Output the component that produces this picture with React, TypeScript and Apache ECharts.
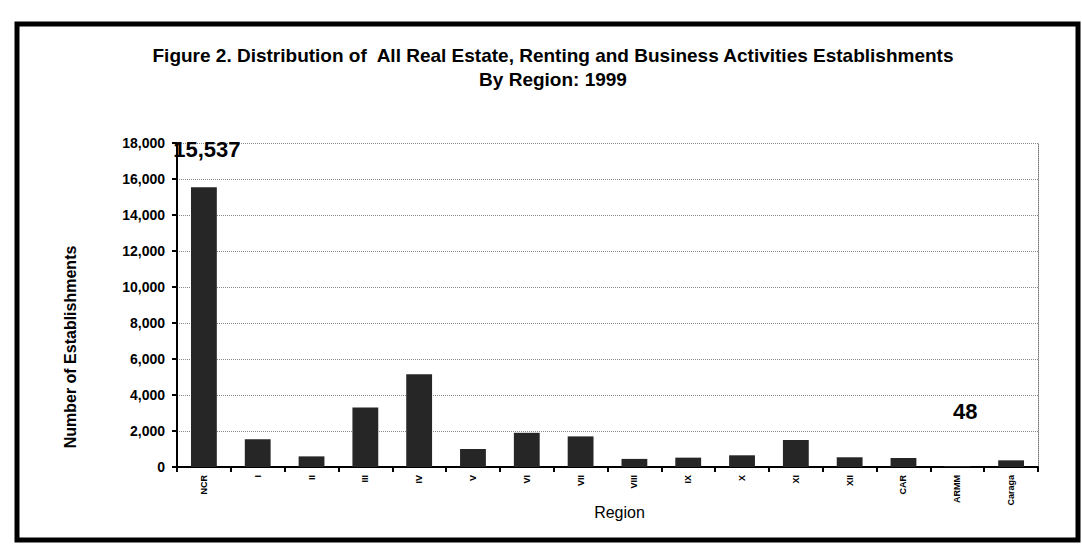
import React, { useEffect, useRef } from "react";
import * as echarts from "echarts";

const regions = ["NCR", "I", "II", "III", "IV", "V", "VI", "VII", "VIII", "IX", "X", "XI", "XII", "CAR", "ARMM", "Caraga"];
const establishments = [15537, 1540, 590, 3300, 5150, 1000, 1900, 1700, 450, 520, 650, 1500, 540, 500, 48, 370];
const labelledRegions = ["NCR", "ARMM"];
const titleLines = ["Figure 2. Distribution of  All Real Estate, Renting and Business Activities Establishments", "By Region: 1999"];

export default function App() {
  const ref = useRef<HTMLDivElement>(null);
  useEffect(() => {
    if (!ref.current) return;
    const chart = echarts.init(ref.current, null, { renderer: "svg" });
    const font = "'Liberation Sans', Arial, sans-serif";
    const data = establishments.map((v, i) => {
      const name = regions[i];
      if (!labelledRegions.includes(name)) return v;
      const isNcr = name === "NCR";
      return {
        value: v,
        label: {
          show: true,
          position: "top",
          distance: isNcr ? 27 : 44,
          offset: isNcr ? [3, 0] : [8, 0],
          formatter: (p: any) => Number(p.value).toLocaleString("en-US"),
          fontFamily: font,
          fontWeight: "bold",
          fontSize: 22,
          color: "#000",
        },
      };
    });
    chart.setOption({
      animation: false,
      backgroundColor: "#fff",
      title: {
        text: titleLines.join("\n"),
        left: 548,
        top: 38,
        textAlign: "center",
        textStyle: { fontFamily: font, fontWeight: "bold", fontSize: 19, color: "#000", lineHeight: 24 },
      },
      grid: { left: 177, right: 44, top: 143, bottom: 88 },
      xAxis: {
        type: "category",
        data: regions,
        name: "Region",
        nameLocation: "middle",
        nameGap: 37,
        nameMoveOverlap: false,
        nameTextStyle: { fontFamily: font, fontSize: 16, color: "#000", padding: [0, 0, 0, 24] },
        axisLine: { lineStyle: { color: "#000", width: 2 } },
        axisTick: { show: true, length: 5, lineStyle: { color: "#000", width: 2 } },
        axisLabel: { rotate: 90, fontFamily: font, fontWeight: "bold", fontSize: 9, color: "#000", margin: 8 },
      },
      yAxis: [
        {
          type: "value",
          min: 0,
          max: 18000,
          interval: 2000,
          axisLine: { show: true, lineStyle: { color: "#000", width: 2 } },
          axisTick: { show: true, length: 5, lineStyle: { color: "#000", width: 2 } },
          axisLabel: {
            fontFamily: font,
            fontWeight: "bold",
            fontSize: 14,
            color: "#000",
            margin: 12,
            formatter: (v: number) => v.toLocaleString("en-US"),
          },
          splitLine: { show: true, lineStyle: { color: "#888", type: "dotted", width: 1 } },
        },
        {
          type: "value",
          min: 0,
          max: 18000,
          interval: 2000,
          position: "right",
          axisLine: { show: true, lineStyle: { color: "#777", type: "dotted", width: 1 } },
          axisTick: { show: false },
          axisLabel: { show: false },
          splitLine: { show: false },
        },
      ],
      series: [
        {
          type: "bar",
          data,
          barWidth: "48%",
          itemStyle: { color: "#262626" },
        },
      ],
      graphic: [
        {
          type: "rect",
          shape: { x: 17, y: 24, width: 1061, height: 516 },
          style: { fill: "none", stroke: "#000", lineWidth: 5 },
          silent: true,
        },
        {
          type: "text",
          x: 70,
          y: 347,
          rotation: Math.PI / 2,
          style: {
            text: "Number of Establishments",
            fontFamily: font,
            fontWeight: "bold",
            fontSize: 16,
            fill: "#000",
            align: "center",
            verticalAlign: "middle",
          },
        },
      ],
    });
    return () => chart.dispose();
  }, []);
  return <div ref={ref} style={{ position: "absolute", left: 0, top: 0, width: 1082, height: 555 }} />;
}
